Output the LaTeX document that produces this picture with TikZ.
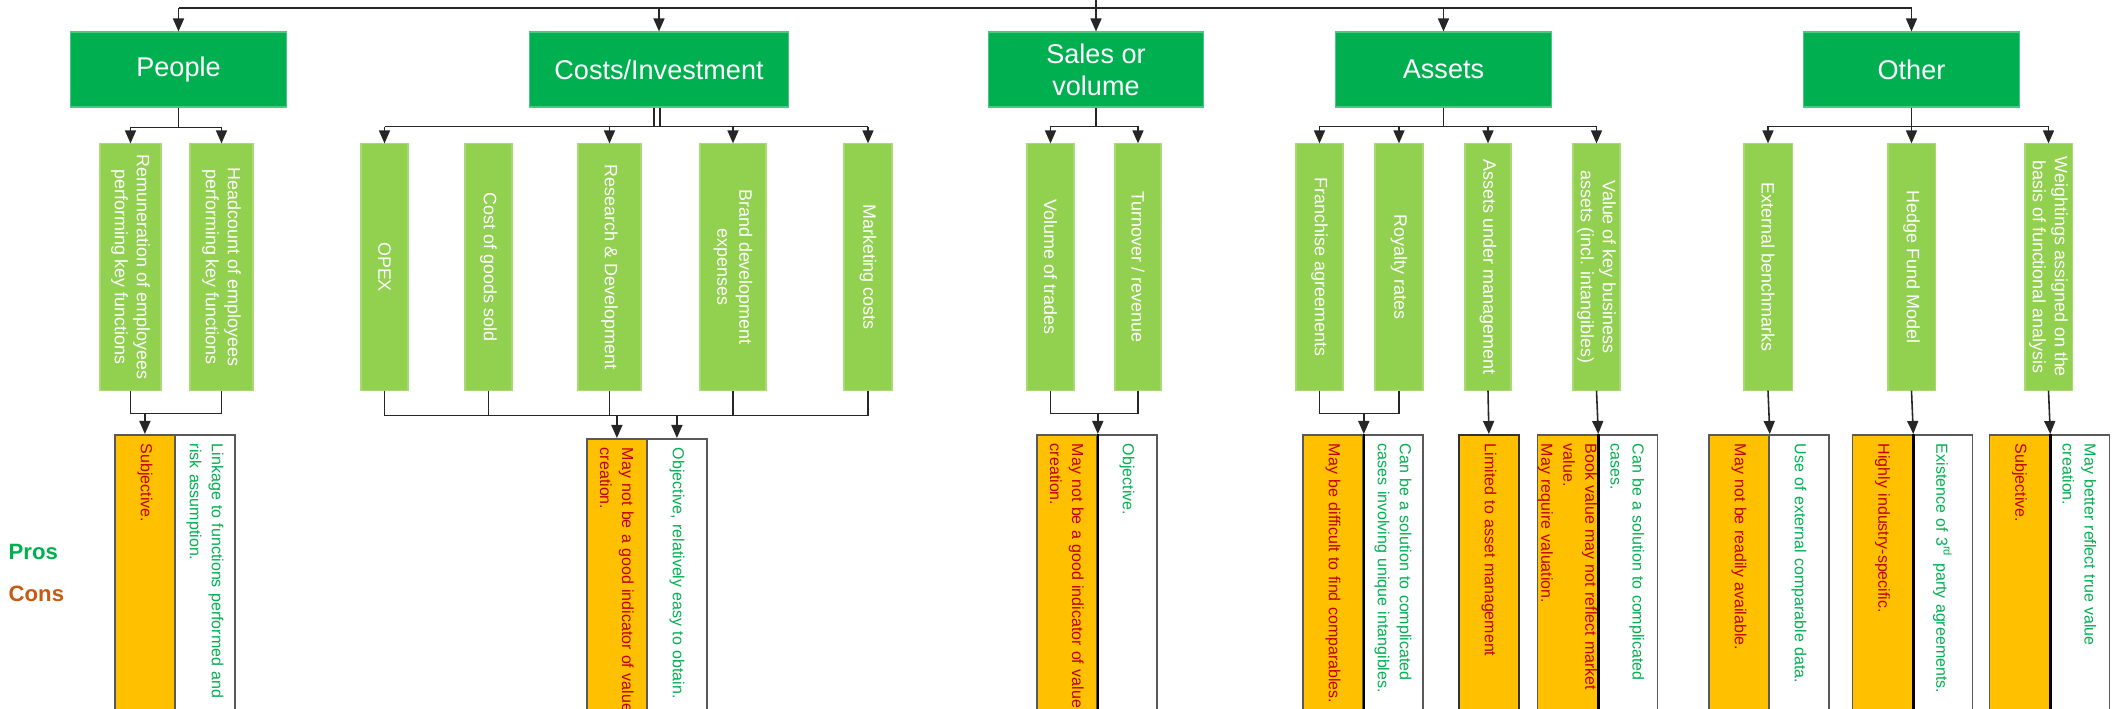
\documentclass[tikz,border=0pt]{standalone}
\usepackage{fontspec}
\setmainfont{Liberation Sans}
\usepackage{tikz}
\usetikzlibrary{arrows.meta}
\definecolor{catgreen}{HTML}{00B050}
\definecolor{subgreen}{HTML}{92D050}
\definecolor{congold}{HTML}{FFC000}
\definecolor{context}{HTML}{C00000}
\definecolor{protext}{HTML}{00B050}
\definecolor{conlabel}{HTML}{C55A11}
\definecolor{boxedge}{HTML}{595959}

\begin{document}
\begin{tikzpicture}[x=0.01cm,y=-0.01cm,
		cat/.style={fill=catgreen,draw=catgreen!70!white,line width=0.3pt,minimum width=2.15cm,minimum height=0.75cm,inner sep=0pt,align=center,text=white,font=\fontsize{7.7}{9.1}\selectfont},
		sub/.style={fill=subgreen,draw=subgreen!80!white,line width=0.3pt,rotate=-90,minimum width=2.46cm,minimum height=#1,inner sep=0pt,align=center,text=white,font=\fontsize{5.1}{6.26}\selectfont},
		con/.style={fill=congold,draw=boxedge,line width=0.5pt,rotate=-90,anchor=south west,minimum width=3cm,minimum height=0.6cm,inner xsep=0.09cm,inner ysep=0pt,text width=2.82cm,align=left,text=context,font=\fontsize{4.55}{6.26}\selectfont},
		pro/.style={con,fill=white,text=protext},
		link/.style={draw=black!85,line width=0.45pt},
		arr/.style={link,-{Triangle[length=0.13cm,width=0.11cm]}},
		divider/.style={draw=black,line width=0.7pt}]
					\useasboundingbox (0,0) rectangle (2114,709);
					\clip (0,0) rectangle (2114,709);

					\node[cat] (people) at (178.5,69.5) {People};
					\node[cat,minimum width=2.58cm] (costs) at (659,69.5) {Costs/Investment};
					\node[cat] (sales) at (1096,69.5) {Sales or\\volume};
					\node[cat] (assets) at (1443.5,69.5) {Assets};
					\node[cat] (other) at (1911.5,69.5) {Other};

					\coordinate (feed) at (1096,0);
					\draw[arr] (feed) -- (sales.north);
					\draw[link] (people.north |- 0,8) -- (other.north |- 0,8);
					\foreach \n in {people,costs,assets,other}
						\draw[arr] (\n.north |- 0,8) -- (\n.north);

					\node[sub=0.61cm] (rem) at (130.5,267) {Remuneration of employees\\performing key functions};
					\node[sub=0.63cm] (head) at (221.5,267) {Headcount of employees\\performing key functions};
					\node[sub=0.47cm] (opex) at (384.5,267) {OPEX};
					\node[sub=0.47cm] (cogs) at (488.5,267) {Cost of goods sold};
					\node[sub=0.63cm] (rnd) at (609.5,267) {Research \& Development};
					\node[sub=0.66cm] (brand) at (733,267) {Brand development\\expenses};
					\node[sub=0.48cm] (mkt) at (868,267) {Marketing costs};
					\node[sub=0.47cm] (vol) at (1050.5,267) {Volume of trades};
					\node[sub=0.46cm] (turn) at (1138,267) {Turnover / revenue};
					\node[sub=0.47cm] (fran) at (1319.5,267) {Franchise agreements};
					\node[sub=0.48cm] (roy) at (1399,267) {Royalty rates};
					\node[sub=0.46cm] (aum) at (1488,267) {Assets under management};
					\node[sub=0.47cm] (vkb) at (1596.5,267) {Value of key business\\assets (incl. intangibles)};
					\node[sub=0.48cm] (ext) at (1768,267) {External benchmarks};
					\node[sub=0.47cm] (hfm) at (1911.5,267) {Hedge Fund Model};
					\node[sub=0.47cm] (wgt) at (2048.5,267) {Weightings assigned on the\\basis of functional analysis};

					\draw[arr] (people.south) -- ++(0,20) -| (rem.west);
					\draw[arr] (people.south) -- ++(0,20) -| (head.west);
					\draw[link,double distance=0.04cm] ([xshift=-0.02cm]costs.south) -- ++(0,19) coordinate (cb);
					\draw[link] (cb -| opex.west) -- (cb -| mkt.west);
					\foreach \n in {opex,rnd,brand,mkt}
						\draw[arr] (cb -| \n.west) -- (\n.west);
					\draw[arr] (sales.south) -- ++(0,19) -| (vol.west);
					\draw[arr] (sales.south) -- ++(0,19) -| (turn.west);
					\foreach \n in {fran,roy,aum,vkb}
						\draw[arr] (assets.south) -- ++(0,19) -| (\n.west);
					\foreach \n in {ext,hfm,wgt}
						\draw[arr] (other.south) -- ++(0,19) -| (\n.west);

					\node[con] (pcon) at (114,434) {Subjective.};
					\node[pro] (ppro) at (174,434) {Linkage to functions performed and\\risk assumption.};
					\node[con] (ccon) at (586,438) {May not be a good indicator of value\\creation.};
					\node[pro] (cpro) at (646,438) {Objective, relatively easy to obtain.};
					\node[con] (scon) at (1036,434) {May not be a good indicator of value\\creation.};
					\node[pro] (spro) at (1096,434) {Objective.};
					\node[con] (acon) at (1302,434) {May be difficult to find comparables.};
					\node[pro] (apro) at (1362,434) {Can be a solution to complicated\\cases involving unique intangibles.};
					\node[con,draw=black!80] (mcon) at (1458,434) {Limited to asset management};
					\node[con] (bcon) at (1536.5,434) {Book value may not reflect market\\value.\\May require valuation.};
					\node[pro] (bpro) at (1596.5,434) {Can be a solution to complicated\\cases.};
					\node[con] (econ) at (1708,434) {May not be readily available.};
					\node[pro] (epro) at (1768,434) {Use of external comparable data.};
					\node[con] (hcon) at (1851.5,434) {Highly industry-specific.};
					\node[pro] (hpro) at (1911.5,434) {Existence of 3\textsuperscript{rd} party agreements.};
					\node[con] (wcon) at (1988.5,434) {Subjective.};
					\node[pro] (wpro) at (2048.5,434) {May better reflect true value\\creation.};
					\foreach \n in {scon,acon,bcon,hcon,wcon}
						\draw[divider] (\n.north west) -- (\n.north east);

					\draw[link] (rem.east) -- ++(0,23) coordinate (pm) -| (head.east);
					\draw[arr] (pm -| pcon.west) -- (pcon.west);
					\draw[link] (opex.east) -- ++(0,25) coordinate (cm) -| (mkt.east);
					\foreach \n in {cogs,rnd,brand}
						\draw[link] (\n.east) -- (cm -| \n.east);
					\draw[arr] (cm -| ccon.west) -- (ccon.west);
					\draw[arr] (cm -| cpro.west) -- (cpro.west);
					\draw[link] (vol.east) -- ++(0,23) coordinate (sm) -| (turn.east);
					\draw[arr] (sm -| scon.north west) -- (scon.north west);
					\draw[link] (fran.east) -- ++(0,23) coordinate (am) -| (roy.east);
					\draw[arr] (am -| acon.north west) -- (acon.north west);
					\draw[arr] (aum.east) -- (mcon.west);
					\draw[arr] (vkb.east) -- (bcon.north west);
					\draw[arr] (ext.east) -- (econ.north west);
					\draw[arr] (hfm.east) -- (hcon.north west);
					\draw[arr] (wgt.east) -- (wcon.north west);

					\node[anchor=west,inner sep=0pt,text=protext,font=\bfseries\fontsize{6.3}{7}\selectfont] (proslabel) at (8,552) {Pros};
					\node[anchor=west,inner sep=0pt,text=conlabel,font=\bfseries\fontsize{6.3}{7}\selectfont] (conslabel) at (8,594) {Cons};
				\end{tikzpicture}
\end{document}
